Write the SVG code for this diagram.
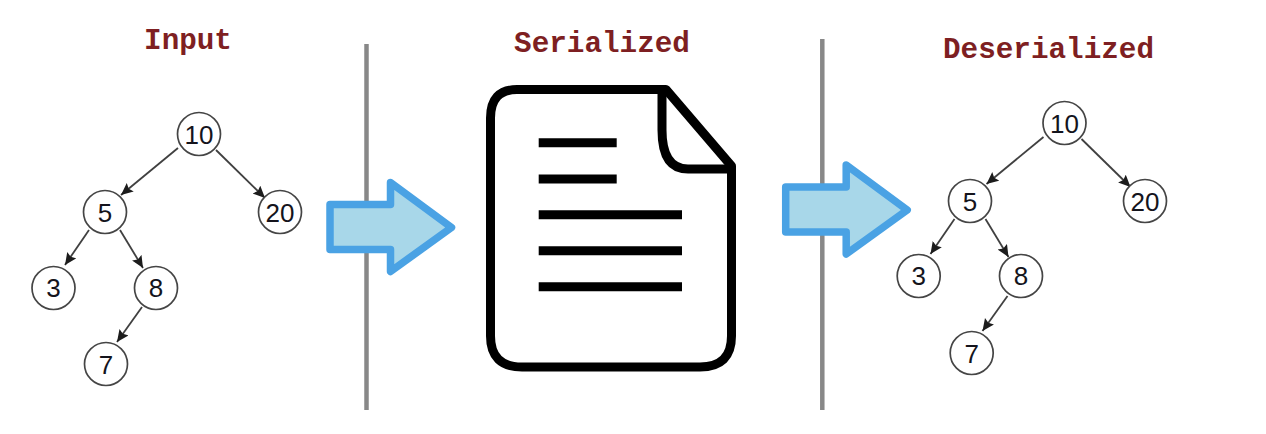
<svg xmlns="http://www.w3.org/2000/svg" width="1266" height="434" viewBox="0 0 1266 434">
<style>
.title{font-family:"Liberation Mono","Courier New",monospace;font-weight:700;font-size:29.300px;fill:#7e1f22;text-anchor:middle}
.node circle{fill:#fff;stroke:#454545;stroke-width:1.700}
.node text{font-family:"Liberation Sans",Arial,sans-serif;font-size:26px;fill:#14141c;text-anchor:middle}
.edge{stroke:#404040;stroke-width:1.800;fill:none;marker-end:url(#tip)}
.divider{stroke:#888;stroke-width:4.500}
.bigarrow{fill:#a8d7e9;stroke:#4aa2e4;stroke-width:7.500;stroke-linejoin:round}
.doc{fill:none;stroke:#000;stroke-width:9;stroke-linejoin:round}
.docline{stroke:#000;stroke-width:9}
</style>
<defs>
<marker id="tip" markerUnits="userSpaceOnUse" markerWidth="14" markerHeight="12" refX="12" refY="5.500" orient="auto">
<path d="M0,0 L12,5.500 L0,11 L2,5.500 Z" fill="#1c1c1c"/>
</marker>
</defs>
<rect width="1266" height="434" fill="#fff"/>
<g id="titles">
<text class="title" x="188" y="49">Input</text>
<text class="title" x="602" y="52">Serialized</text>
<text class="title" x="1048.500" y="58">Deserialized</text>
</g>
<g id="dividers">
<line class="divider" x1="366.500" y1="44" x2="366.500" y2="410"/>
<line class="divider" x1="822.300" y1="39" x2="822.300" y2="410"/>
</g>
<g id="connectors">
<line class="edge" x1="178" y1="148" x2="121" y2="195"/>
<line class="edge" x1="216" y1="150" x2="265" y2="198"/>
<line class="edge" x1="89" y1="230" x2="65" y2="265"/>
<line class="edge" x1="120" y1="230" x2="143" y2="268"/>
<line class="edge" x1="142" y1="307" x2="117" y2="342"/>
<line class="edge" x1="1043.500" y1="137" x2="986.500" y2="184"/>
<line class="edge" x1="1081.500" y1="139" x2="1130.500" y2="187"/>
<line class="edge" x1="954.500" y1="219" x2="930.500" y2="254"/>
<line class="edge" x1="985.500" y1="219" x2="1008.500" y2="257"/>
<line class="edge" x1="1007.500" y1="296" x2="982.500" y2="331"/>
</g>
<g id="input-10" class="node"><circle cx="199" cy="134" r="21.500"/><text x="199" y="143.500">10</text></g>
<g id="input-5" class="node"><circle cx="105" cy="212" r="21.500"/><text x="105" y="221.500">5</text></g>
<g id="input-20" class="node"><circle cx="280" cy="212" r="21.500"/><text x="280" y="221.500">20</text></g>
<g id="input-3" class="node"><circle cx="53.500" cy="288" r="21.500"/><text x="53.500" y="297">3</text></g>
<g id="input-8" class="node"><circle cx="156" cy="288" r="21.500"/><text x="156" y="297">8</text></g>
<g id="input-7" class="node"><circle cx="106" cy="364" r="21.500"/><text x="106" y="373.500">7</text></g>
<g id="output-10" class="node"><circle cx="1064.500" cy="123" r="21.500"/><text x="1064.500" y="132.500">10</text></g>
<g id="output-5" class="node"><circle cx="970" cy="201" r="21.500"/><text x="970" y="210.500">5</text></g>
<g id="output-20" class="node"><circle cx="1145" cy="201" r="21.500"/><text x="1145" y="210.500">20</text></g>
<g id="output-3" class="node"><circle cx="918.700" cy="276" r="21.500"/><text x="918.700" y="285">3</text></g>
<g id="output-8" class="node"><circle cx="1021" cy="276" r="21.500"/><text x="1021" y="285">8</text></g>
<g id="output-7" class="node"><circle cx="971.700" cy="353" r="21.500"/><text x="971.700" y="362.500">7</text></g>
<g id="arrow-1"><path class="bigarrow" d="M330,204.500 H390.500 V182.500 L451.500,227.500 L390.500,271.500 V249.500 H330 Z"/></g>
<g id="arrow-2"><path class="bigarrow" d="M785.700,187 H846.200 V165 L907.200,210 L846.200,254 V232 H785.700 Z"/></g>
<g id="document">
<path class="doc" d="M666,89.500 H517 Q490.500,89.500 490.500,118 V336 Q490.500,367 522,367 H700 Q731.500,367 731.500,336 V166 Z"/>
<path class="doc" d="M662,92 V130 Q662,169 688,169 H731.500"/>
<line class="docline" x1="538.700" y1="142.700" x2="616.700" y2="142.700"/>
<line class="docline" x1="538.700" y1="179" x2="616.700" y2="179"/>
<line class="docline" x1="538.700" y1="214.700" x2="682" y2="214.700"/>
<line class="docline" x1="538.700" y1="250.700" x2="682" y2="250.700"/>
<line class="docline" x1="538.700" y1="286.700" x2="682" y2="286.700"/>
</g>
</svg>
